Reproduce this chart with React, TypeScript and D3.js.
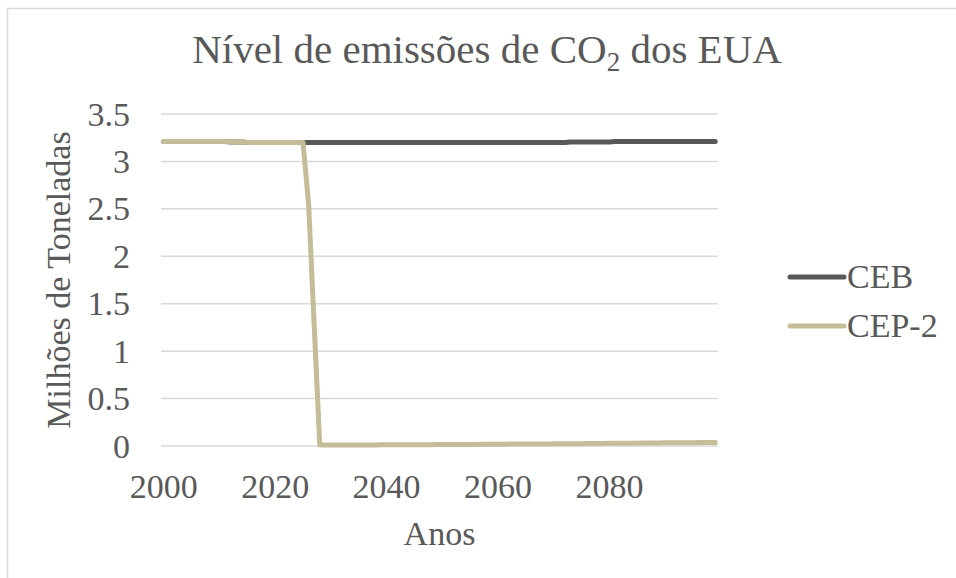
import * as d3 from "d3";
import React, { useRef, useEffect } from "react";

const width = 956;
const height = 578;
const plot = { left: 161, right: 718, top: 114, bottom: 446 };
const fontFamily = "'Liberation Serif', 'Times New Roman', serif";
const textColor = "#595959";
const gridColor = "#d9d9d9";

// years 2000..2099
const years: number[] = [
	2000, 2001, 2002, 2003, 2004, 2005, 2006, 2007, 2008, 2009,
	2010, 2011, 2012, 2013, 2014, 2015, 2016, 2017, 2018, 2019,
	2020, 2021, 2022, 2023, 2024, 2025, 2026, 2027, 2028, 2029,
	2030, 2031, 2032, 2033, 2034, 2035, 2036, 2037, 2038, 2039,
	2040, 2041, 2042, 2043, 2044, 2045, 2046, 2047, 2048, 2049,
	2050, 2051, 2052, 2053, 2054, 2055, 2056, 2057, 2058, 2059,
	2060, 2061, 2062, 2063, 2064, 2065, 2066, 2067, 2068, 2069,
	2070, 2071, 2072, 2073, 2074, 2075, 2076, 2077, 2078, 2079,
	2080, 2081, 2082, 2083, 2084, 2085, 2086, 2087, 2088, 2089,
	2090, 2091, 2092, 2093, 2094, 2095, 2096, 2097, 2098, 2099,
];

const ceb: number[] = [
	3.21, 3.21, 3.21, 3.21, 3.21, 3.21, 3.21, 3.21, 3.21, 3.21,
	3.21, 3.21, 3.205, 3.205, 3.205, 3.2, 3.2, 3.2, 3.2, 3.2,
	3.2, 3.2, 3.2, 3.2, 3.2, 3.2, 3.2, 3.2, 3.2, 3.2,
	3.2, 3.2, 3.2, 3.2, 3.2, 3.2, 3.2, 3.2, 3.2, 3.2,
	3.2, 3.2, 3.2, 3.2, 3.2, 3.2, 3.2, 3.2, 3.2, 3.2,
	3.2, 3.2, 3.2, 3.2, 3.2, 3.2, 3.2, 3.2, 3.2, 3.2,
	3.2, 3.2, 3.2, 3.2, 3.2, 3.2, 3.2, 3.2, 3.2, 3.2,
	3.2, 3.2, 3.2, 3.205, 3.205, 3.205, 3.205, 3.205, 3.205, 3.205,
	3.205, 3.21, 3.21, 3.21, 3.21, 3.21, 3.21, 3.21, 3.21, 3.21,
	3.21, 3.21, 3.21, 3.21, 3.21, 3.21, 3.21, 3.21, 3.21, 3.21,
];

const cep2: number[] = [
	3.21, 3.21, 3.21, 3.21, 3.21, 3.21, 3.21, 3.21, 3.21, 3.21,
	3.21, 3.21, 3.205, 3.205, 3.205, 3.2, 3.2, 3.2, 3.2, 3.2,
	3.2, 3.2, 3.2, 3.2, 3.2, 3.2, 2.55, 1.28, 0.01, 0.01,
	0.01, 0.01, 0.01, 0.01, 0.01, 0.01, 0.01, 0.01, 0.01, 0.012,
	0.012, 0.012, 0.012, 0.013, 0.013, 0.013, 0.014, 0.014, 0.014, 0.015,
	0.015, 0.015, 0.016, 0.016, 0.016, 0.017, 0.017, 0.018, 0.018, 0.018,
	0.019, 0.019, 0.02, 0.02, 0.02, 0.021, 0.021, 0.022, 0.022, 0.022,
	0.023, 0.023, 0.024, 0.024, 0.025, 0.025, 0.026, 0.026, 0.027, 0.027,
	0.028, 0.028, 0.029, 0.029, 0.03, 0.03, 0.031, 0.031, 0.032, 0.032,
	0.033, 0.033, 0.034, 0.034, 0.035, 0.035, 0.036, 0.036, 0.037, 0.037,
];

const yTicks: number[] = [0, 0.5, 1, 1.5, 2, 2.5, 3, 3.5];
const xTickLabels: number[] = [2000, 2020, 2040, 2060, 2080];

const seriesNames: string[] = ["CEB", "CEP-2"];
const seriesColors: string[] = ["#595959", "#c4bd97"];

const App = () => {
	const d3Container = useRef<SVGSVGElement | null>(null);

	useEffect(() => {
		if (d3Container.current) {
			const svg = d3.select(d3Container.current);
			svg.selectAll("*").remove();
			renderChart(svg);
		}
	}, []);

	const renderChart = (svg: any) => {
		const xScale = d3
			.scaleBand<number>()
			.domain(years)
			.range([plot.left, plot.right]);
		const xMid = (yr: number) => (xScale(yr) as number) + xScale.bandwidth() / 2;
		const yScale = d3
			.scaleLinear()
			.domain([0, 3.5])
			.range([plot.bottom, plot.top]);

		// chart frame (runs off the right and bottom edges)
		svg
			.append("rect")
			.attr("x", 7.5)
			.attr("y", 8.5)
			.attr("width", 1000)
			.attr("height", 1000)
			.attr("fill", "white")
			.attr("stroke", gridColor)
			.attr("stroke-width", 1.5);

		// gridlines
		svg
			.append("g")
			.selectAll("line")
			.data(yTicks)
			.enter()
			.append("line")
			.attr("x1", plot.left)
			.attr("x2", plot.right)
			.attr("y1", (d: number) => yScale(d))
			.attr("y2", (d: number) => yScale(d))
			.attr("stroke", gridColor)
			.attr("stroke-width", 1.5);

		// y tick labels
		svg
			.append("g")
			.selectAll("text")
			.data(yTicks)
			.enter()
			.append("text")
			.attr("x", 130)
			.attr("y", (d: number) => yScale(d) + 11.5)
			.attr("text-anchor", "end")
			.attr("font-family", fontFamily)
			.attr("font-size", 34)
			.attr("fill", textColor)
			.text((d: number) => String(d));

		// x tick labels
		svg
			.append("g")
			.selectAll("text")
			.data(xTickLabels)
			.enter()
			.append("text")
			.attr("x", (d: number) => xMid(d))
			.attr("y", 498)
			.attr("text-anchor", "middle")
			.attr("font-family", fontFamily)
			.attr("font-size", 34)
			.attr("fill", textColor)
			.text((d: number) => String(d));

		// lines
		const line = d3
			.line<[number, number]>()
			.x((d) => xMid(d[0]))
			.y((d) => yScale(d[1]));

		[ceb, cep2].forEach((values, i) => {
			svg
				.append("path")
				.datum(years.map((yr, j) => [yr, values[j]]))
				.attr("d", line)
				.attr("fill", "none")
				.attr("stroke", seriesColors[i])
				.attr("stroke-width", 5)
				.attr("stroke-linecap", "round")
				.attr("stroke-linejoin", "round");
		});

		// title
		const title = svg
			.append("text")
			.attr("x", 487)
			.attr("y", 63)
			.attr("text-anchor", "middle")
			.attr("font-family", fontFamily)
			.attr("font-size", 41)
			.attr("fill", textColor);
		title.append("tspan").text("Nível de emissões de CO");
		title.append("tspan").attr("font-size", 27).attr("dy", 8).text("2");
		title.append("tspan").attr("dy", -8).text(" dos EUA");

		// axis titles
		svg
			.append("text")
			.attr("transform", `translate(70, ${(plot.top + plot.bottom) / 2}) rotate(-90)`)
			.attr("text-anchor", "middle")
			.attr("font-family", fontFamily)
			.attr("font-size", 34)
			.attr("fill", textColor)
			.text("Milhões de Toneladas");

		svg
			.append("text")
			.attr("x", (plot.left + plot.right) / 2)
			.attr("y", 545)
			.attr("text-anchor", "middle")
			.attr("font-family", fontFamily)
			.attr("font-size", 34)
			.attr("fill", textColor)
			.text("Anos");

		// legend
		const legend = svg
			.selectAll(".legend-item")
			.data(seriesNames)
			.enter()
			.append("g")
			.attr("class", "legend-item")
			.attr("transform", (_d: string, i: number) => `translate(790, ${277 + i * 49})`);
		legend
			.append("line")
			.attr("x1", 0)
			.attr("x2", 54)
			.attr("stroke", (_d: string, i: number) => seriesColors[i])
			.attr("stroke-width", 5)
			.attr("stroke-linecap", "round");
		legend
			.append("text")
			.attr("x", 57)
			.attr("y", 11)
			.attr("font-family", fontFamily)
			.attr("font-size", 34)
			.attr("fill", textColor)
			.text((d: string) => d);
	};

	return (
		<div style={{ position: "fixed", left: 0, top: 0, width, height, overflow: "hidden" }}>
			<svg
				ref={d3Container}
				width={width}
				height={height}
				style={{ display: "block", backgroundColor: "white" }}
			/>
		</div>
	);
};

export default App;
